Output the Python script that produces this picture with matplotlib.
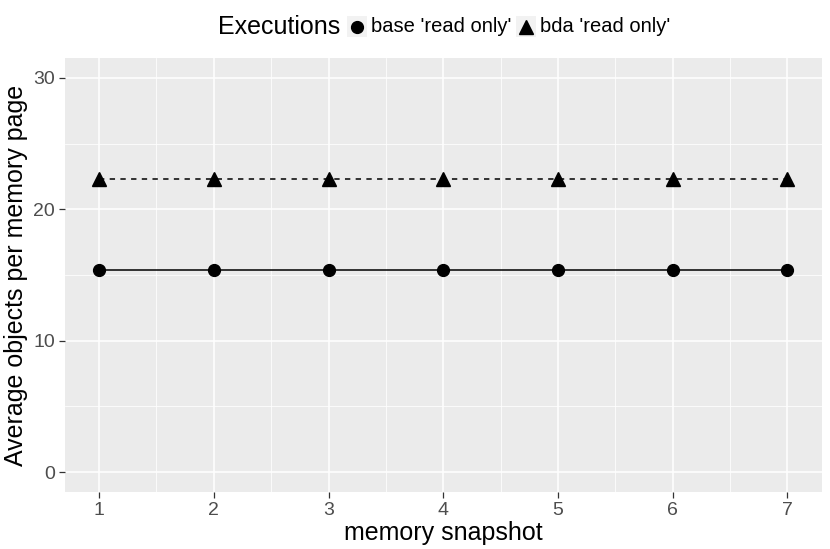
import matplotlib
matplotlib.use("Agg")
import matplotlib.pyplot as plt
from matplotlib.lines import Line2D
from matplotlib.patches import Rectangle

plt.rcParams["font.family"] = ["Liberation Sans", "DejaVu Sans"]

# data
snapshots = [1, 2, 3, 4, 5, 6, 7]
base_read_only = [15.4, 15.4, 15.4, 15.4, 15.4, 15.4, 15.4]
bda_read_only = [22.3, 22.3, 22.3, 22.3, 22.3, 22.3, 22.3]
y_ticks = [0, 10, 20, 30]
series_labels = ["base 'read only'", "bda 'read only'"]

fig = plt.figure(figsize=(8.3, 5.49), dpi=100)
ax = fig.add_axes([0.078, 0.104, 0.912, 0.790])
ax.set_facecolor("#EBEBEB")

ax.plot(snapshots, base_read_only, color="black", lw=1.1, marker="o", ms=8.5,
        linestyle="-", zorder=3)
ax.plot(snapshots, bda_read_only, color="black", lw=1.1, marker="^", ms=10.5,
        linestyle=(0, (3.5, 3.5)), zorder=3)

ax.set_xlim(0.7, 7.3)
ax.set_ylim(-1.5, 31.5)
ax.set_xticks(snapshots)
ax.set_yticks(y_ticks)
ax.set_xticks([1.5, 2.5, 3.5, 4.5, 5.5, 6.5], minor=True)
ax.set_yticks([5, 15, 25], minor=True)
ax.grid(True, which="major", color="white", lw=1.1)
ax.grid(True, which="minor", color="white", lw=0.55)
ax.set_axisbelow(True)
for s in ax.spines.values():
    s.set_visible(False)
ax.tick_params(which="major", length=4, width=0.9, color="#333333",
               labelcolor="#4D4D4D", labelsize=14, pad=3)
ax.tick_params(which="minor", length=0)

ax.set_xlabel("memory snapshot", fontsize=18, labelpad=2)
ax.set_ylabel("Average objects per memory page", fontsize=18, labelpad=4)

# legend at the top
ly = 0.951
fig.text(0.2627, ly, "Executions", fontsize=18, va="center", ha="left")
keys = [(0.418, "o", 8.5), (0.6217, "^", 10.5)]
for (kx, mk, ms), lab in zip(keys, series_labels):
    fig.add_artist(Rectangle((kx, ly - 0.019), 0.024, 0.038,
                             transform=fig.transFigure, facecolor="#F2F2F2",
                             edgecolor="none"))
    fig.add_artist(Line2D([kx + 0.012], [ly], transform=fig.transFigure,
                          color="black", marker=mk, ms=ms, linestyle="None"))
    fig.text(kx + 0.029, ly, lab, fontsize=14.5, va="center", ha="left")

fig.savefig("out.png", dpi=100)
